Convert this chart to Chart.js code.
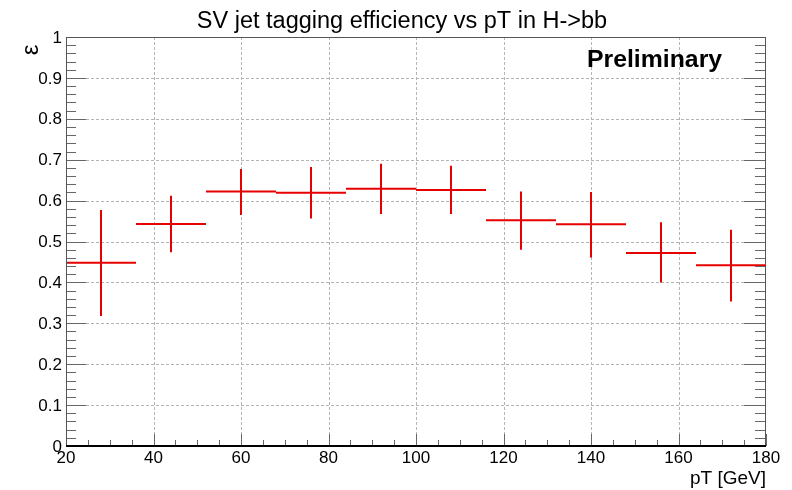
<!DOCTYPE html>
<html>
<head>
<meta charset="utf-8">
<script src="https://cdn.jsdelivr.net/npm/chart.js@4/dist/chart.umd.min.js"></script>
<style>
html,body{margin:0;padding:0;background:#fff;}
#wrap{width:792px;height:490px;position:relative;}
</style>
</head>
<body>
<div id="wrap"><canvas id="c" width="792" height="490"></canvas></div>
<script>
// ---- data ----
const binLow    = [20, 36, 52, 68, 84, 100, 116, 132, 148, 164];
const binHigh   = [36, 52, 68, 84, 100, 116, 132, 148, 164, 180];
const binCenter = [28, 44, 60, 76, 92, 108, 124, 140, 156, 172];
const efficiency = [0.448, 0.543, 0.622, 0.619, 0.629, 0.626, 0.552, 0.542, 0.472, 0.442];
const errUp      = [0.129, 0.069, 0.055, 0.063, 0.061, 0.059, 0.070, 0.079, 0.075, 0.087];
const errDown    = [0.130, 0.069, 0.057, 0.063, 0.062, 0.059, 0.072, 0.081, 0.072, 0.089];
const xTickValues = [20, 40, 60, 80, 100, 120, 140, 160, 180];
const xTickLabels = ["20","40","60","80","100","120","140","160","180"];
const yTickValues = [0, 0.1, 0.2, 0.3, 0.4, 0.5, 0.6, 0.7, 0.8, 0.9, 1];
const yTickLabels = ["0","0.1","0.2","0.3","0.4","0.5","0.6","0.7","0.8","0.9","1"];
const titleText = "SV jet tagging efficiency vs pT in H->bb";
const xTitle = "pT [GeV]";
const yTitle = "\u03B5";
const labelText = "Preliminary";

// build error-cross segments (null breaks between segments)
const crossPts = [];
for (let i = 0; i < efficiency.length; i++) {
  crossPts.push({x: binLow[i], y: efficiency[i]});
  crossPts.push({x: binHigh[i], y: efficiency[i]});
  crossPts.push({x: binCenter[i], y: null});
  crossPts.push({x: binCenter[i], y: efficiency[i] - errDown[i]});
  crossPts.push({x: binCenter[i], y: efficiency[i] + errUp[i]});
  crossPts.push({x: binCenter[i], y: null});
}

const SANS = '"Liberation Sans", Arial, Helvetica, sans-serif';

const rootStyle = {
  id: 'rootStyle',
  beforeDatasetsDraw(chart) {
    const ctx = chart.ctx, a = chart.chartArea;
    const xs = chart.scales.x, ys = chart.scales.y;
    ctx.save();
    ctx.strokeStyle = '#b4b4b4';
    ctx.lineWidth = 1;
    ctx.setLineDash([3, 2]);
    for (const v of xTickValues) {
      if (v === 20 || v === 180) continue;
      const px = Math.round(xs.getPixelForValue(v)) + 0.5;
      ctx.beginPath(); ctx.moveTo(px, a.top); ctx.lineTo(px, a.bottom); ctx.stroke();
    }
    for (const v of yTickValues) {
      if (v === 0 || v === 1) continue;
      const py = Math.round(ys.getPixelForValue(v)) + 0.5;
      ctx.beginPath(); ctx.moveTo(a.left, py); ctx.lineTo(a.right, py); ctx.stroke();
    }
    ctx.restore();
  },
  afterDatasetsDraw(chart) {
    const ctx = chart.ctx, a = chart.chartArea;
    const xs = chart.scales.x, ys = chart.scales.y;
    ctx.save();
    ctx.setLineDash([]);
    // ticks
    ctx.strokeStyle = '#666';
    ctx.lineWidth = 1;
    // y ticks, both sides
    for (let k = 0; k <= 50; k++) {
      const v = k / 50;
      const py = Math.round(ys.getPixelForValue(v)) + 0.5;
      const major = (k % 5 === 0);
      const lenL = major ? 20 : 10;
      const lenR = major ? 22 : 11;
      ctx.beginPath(); ctx.moveTo(a.left, py); ctx.lineTo(a.left + lenL, py); ctx.stroke();
      ctx.beginPath(); ctx.moveTo(a.right, py); ctx.lineTo(a.right - lenR, py); ctx.stroke();
    }
    // x ticks, bottom only
    for (let k = 0; k <= 32; k++) {
      const v = 20 + k * 5;
      const px = Math.round(xs.getPixelForValue(v)) + 0.5;
      const major = (k % 4 === 0);
      const len = major ? 12 : 6;
      ctx.beginPath(); ctx.moveTo(px, a.bottom); ctx.lineTo(px, a.bottom - len); ctx.stroke();
    }
    // frame
    ctx.strokeStyle = '#555';
    ctx.lineWidth = 1;
    ctx.beginPath();
    ctx.moveTo(a.left + 0.5, a.bottom);
    ctx.lineTo(a.left + 0.5, a.top + 0.5);
    ctx.lineTo(a.right - 0.5, a.top + 0.5);
    ctx.lineTo(a.right - 0.5, a.bottom);
    ctx.stroke();
    ctx.strokeStyle = '#000';
    ctx.lineWidth = 2;
    ctx.beginPath(); ctx.moveTo(a.left, a.bottom); ctx.lineTo(a.right, a.bottom); ctx.stroke();

    // tick labels
    ctx.fillStyle = '#000';
    ctx.font = '17px ' + SANS;
    ctx.textAlign = 'right';
    ctx.textBaseline = 'middle';
    yTickValues.forEach((v, i) => {
      ctx.fillText(yTickLabels[i], a.left - 4, ys.getPixelForValue(v) + 1);
    });
    ctx.textAlign = 'center';
    ctx.textBaseline = 'alphabetic';
    xTickValues.forEach((v, i) => {
      ctx.fillText(xTickLabels[i], xs.getPixelForValue(v), a.bottom + 17);
    });
    // axis titles
    ctx.font = '19px ' + SANS;
    ctx.textAlign = 'right';
    ctx.fillText(xTitle, a.right, 484);
    ctx.save();
    ctx.translate(31, 50);
    ctx.rotate(-Math.PI / 2);
    ctx.font = '24px ' + SANS;
    ctx.textAlign = 'center';
    ctx.textBaseline = 'middle';
    ctx.fillText(yTitle, 0, 0);
    ctx.restore();
    // title
    ctx.font = '23.5px ' + SANS;
    ctx.textAlign = 'center';
    ctx.textBaseline = 'alphabetic';
    ctx.fillText(titleText, 402, 28);
    // Preliminary
    ctx.font = 'bold 24.8px ' + SANS;
    ctx.textAlign = 'left';
    ctx.fillText(labelText, 587, 67);
    ctx.restore();
  }
};

new Chart(document.getElementById('c'), {
  type: 'scatter',
  data: {
    datasets: [{
      data: crossPts,
      showLine: true,
      spanGaps: false,
      borderColor: 'rgb(230,0,0)',
      borderWidth: 2,
      borderCapStyle: 'butt',
      pointRadius: 0,
      pointHoverRadius: 0,
      tension: 0
    }]
  },
  options: {
    responsive: false,
    animation: false,
    events: [],
    layout: { padding: { left: 66, right: 26, top: 37, bottom: 44 } },
    plugins: { legend: { display: false }, tooltip: { enabled: false }, title: { display: false } },
    scales: {
      x: { type: 'linear', min: 20, max: 180, display: false },
      y: { type: 'linear', min: 0, max: 1, display: false }
    }
  },
  plugins: [rootStyle]
});
</script>
</body>
</html>
